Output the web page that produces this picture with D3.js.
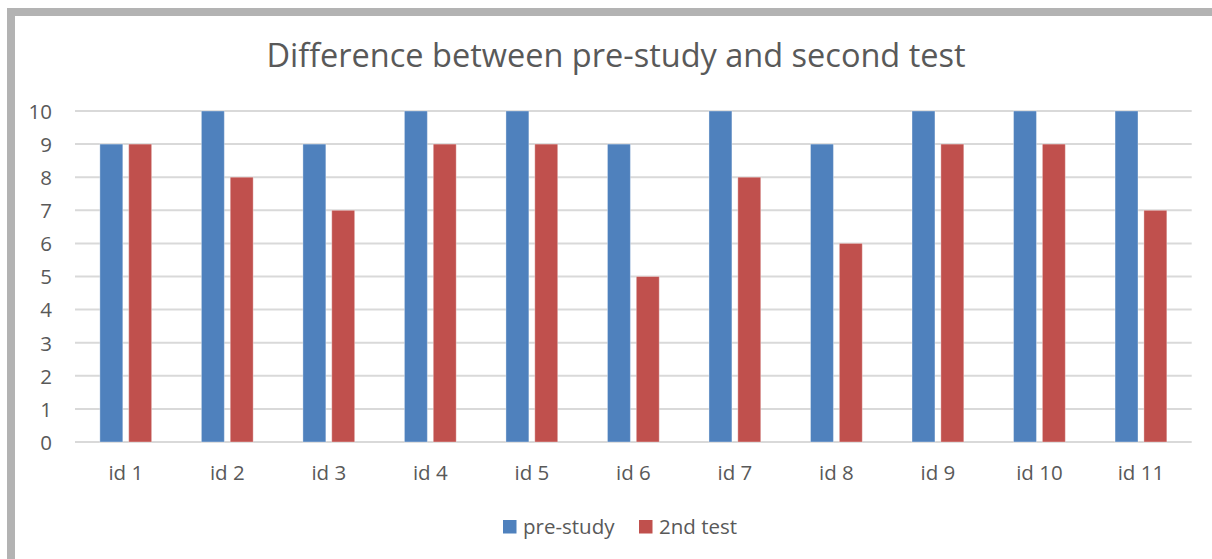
<!DOCTYPE html>
<html>
<head>
<meta charset="utf-8">
<script src="https://cdn.jsdelivr.net/npm/d3@7"></script>
<style>
  body { margin: 0; background: #fff; }
  svg { display: block; font-family: "Open Sans", sans-serif; }
</style>
</head>
<body>
<div id="chart"></div>
<script>
var categories = ["id 1", "id 2", "id 3", "id 4", "id 5", "id 6", "id 7", "id 8", "id 9", "id 10", "id 11"]
var seriesNames = ["pre-study", "2nd test"]
var preStudy = [9, 10, 9, 10, 10, 9, 10, 9, 10, 10, 10]
var secondTest = [9, 8, 7, 9, 9, 5, 8, 6, 9, 9, 7]
var yTicks = [0, 1, 2, 3, 4, 5, 6, 7, 8, 9, 10]
var colors = ["#4f81bd", "#c0504d"]
var title = "Difference between pre-study and second test"

var width = 1212
var height = 559
var margins = { top: 111, right: 20, bottom: 117, left: 75 }
var textColor = "#595959"
var labelSize = "20.5px"

var svg = d3.select("#chart").append("svg")
    .attr("width", width)
    .attr("height", height)

// grey frame, cut off at right and bottom
svg.append("rect")
    .attr("x", 11)
    .attr("y", 12)
    .attr("width", 1400)
    .attr("height", 800)
    .attr("fill", "none")
    .attr("stroke", "#b3b3b3")
    .attr("stroke-width", 8)

svg.append("text")
    .attr("x", 616)
    .attr("y", 67)
    .attr("text-anchor", "middle")
    .attr("fill", textColor)
    .style("font-size", "32.5px")
    .text(title)

var x0 = d3.scaleBand()
    .domain(categories)
    .range([margins.left, 1191.7])
    .paddingInner(0.49)
    .paddingOuter(0.245)

var x1 = d3.scaleBand()
    .domain(seriesNames)
    .range([0, x0.bandwidth()])
    .paddingInner(0.205)

var y = d3.scaleLinear()
    .domain([0, 10])
    .range([442, 111])

// gridlines
svg.append("g")
    .selectAll("line")
    .data(yTicks)
    .enter()
    .append("line")
    .attr("x1", margins.left)
    .attr("x2", 1191.7)
    .attr("y1", d => y(d))
    .attr("y2", d => y(d))
    .attr("stroke", "#d9d9d9")
    .attr("stroke-width", 2)

var yAxis = svg.append("g")
    .attr("transform", "translate(52,0)")
    .call(d3.axisLeft(y).tickValues(yTicks).tickSize(0).tickPadding(0))
yAxis.select(".domain").remove()
yAxis.selectAll("text")
    .attr("fill", textColor)
    .attr("dy", "0.36em")
    .style("font-size", labelSize)
    .style("font-family", "'Open Sans', sans-serif")

var rows = categories.map(function(c, i) {
    return { cat: c, values: [preStudy[i], secondTest[i]] }
})

var groups = svg.append("g")
    .selectAll("g")
    .data(rows)
    .enter()
    .append("g")
    .attr("transform", d => `translate(${x0(d.cat)},0)`)

groups.selectAll("rect")
    .data(d => d.values.map((v, k) => ({ name: seriesNames[k], value: v, k: k })))
    .enter()
    .append("rect")
    .attr("x", d => x1(d.name))
    .attr("y", d => y(d.value))
    .attr("width", x1.bandwidth())
    .attr("height", d => y(0) - y(d.value))
    .attr("fill", d => colors[d.k])
    .attr("stroke", "rgba(255,255,255,0.35)")
    .attr("stroke-width", 1)

var xAxis = svg.append("g")
    .attr("transform", "translate(0,442)")
    .call(d3.axisBottom(x0).tickSize(0).tickPadding(0))
xAxis.select(".domain").remove()
xAxis.selectAll("text")
    .attr("fill", textColor)
    .attr("dy", null)
    .attr("y", 38)
    .style("font-size", labelSize)
    .style("font-family", "'Open Sans', sans-serif")

// legend
var legendX = [503, 639]
var legend = svg.append("g")
    .selectAll("g")
    .data(seriesNames)
    .enter()
    .append("g")
    .attr("transform", (d, i) => `translate(${legendX[i]},520)`)
legend.append("rect")
    .attr("width", 13.5)
    .attr("height", 13.5)
    .attr("fill", (d, i) => colors[i])
legend.append("text")
    .attr("x", 20)
    .attr("y", 13.5)
    .attr("fill", textColor)
    .style("font-size", labelSize)
    .text(d => d)
</script>
</body>
</html>
